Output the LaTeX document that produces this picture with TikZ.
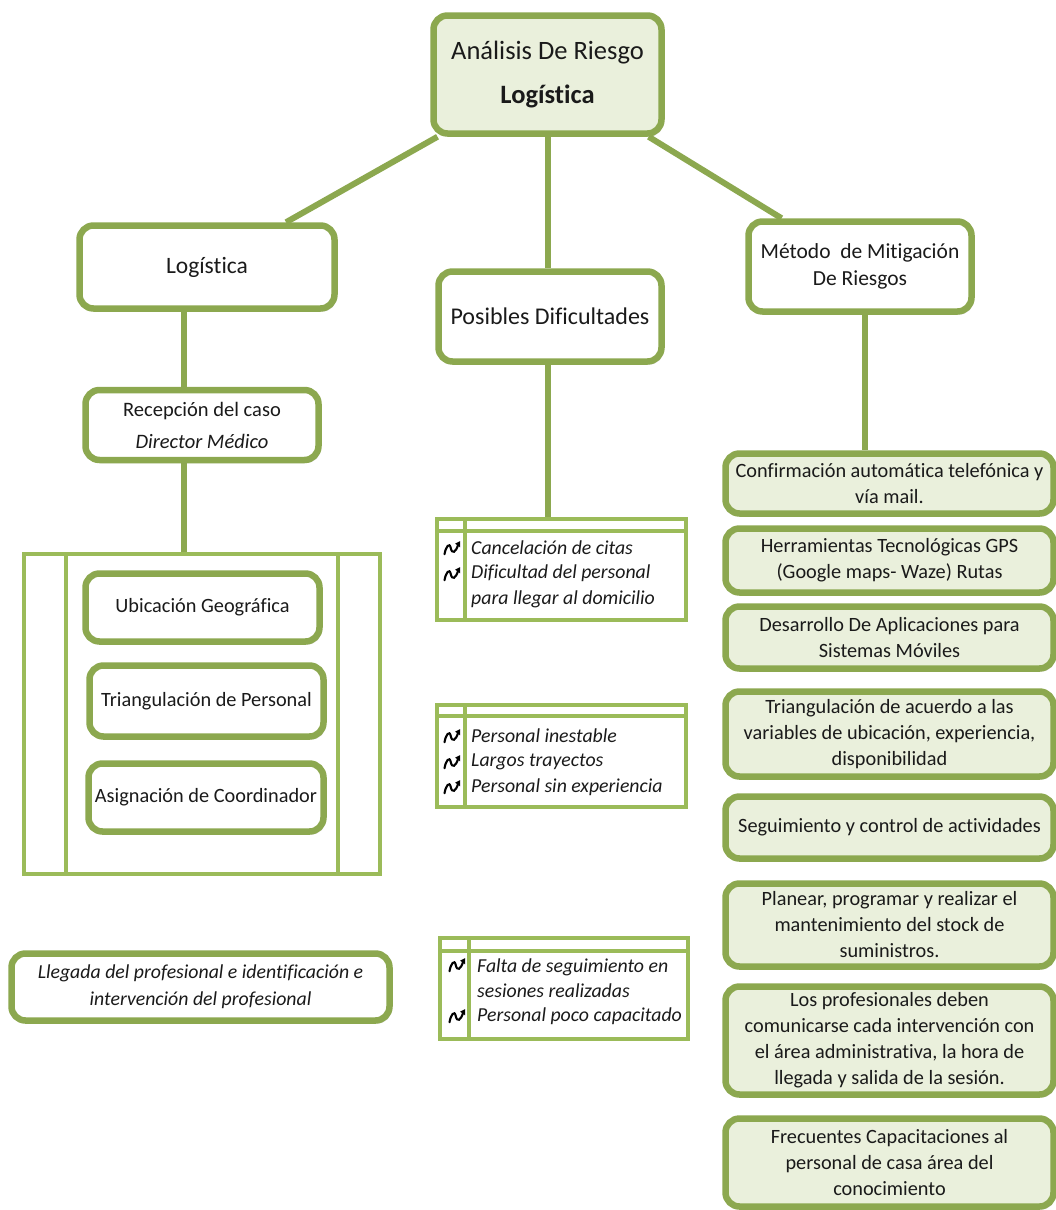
\documentclass[tikz,border=0pt]{standalone}
\usepackage{fontspec}
\setmainfont[Ligatures=NoCommon]{Carlito}
\usetikzlibrary{shadows,backgrounds,arrows.meta}
\definecolor{boxline}{HTML}{8CA84F}
\definecolor{tblline}{HTML}{9BBB59}
\definecolor{softgreen}{HTML}{EAF0DC}
\definecolor{ink}{HTML}{1A1A1A}

\tikzset{
  card/.style={draw=boxline, line width=6.5pt, rounded corners=14pt, fill=white,
    text=ink, align=center, inner sep=0pt,
    drop shadow={shadow xshift=2pt, shadow yshift=-3pt, opacity=0.3}},
  greencard/.style={card, fill=softgreen},
  tablebox/.style={draw=tblline, line width=4pt, inner sep=0pt},
  tableline/.style={draw=tblline, line width=4pt},
  conn/.style={draw=boxline, line width=6pt},
  txt/.style={font=\fontsize{20.3}{26}\selectfont},
  itemtxt/.style={font=\fontsize{19.8}{25.5}\selectfont\itshape, text=ink, anchor=west,
    align=left, inner sep=0pt},
  wavemark/.pic={
    \begin{scope}[scale=1.25]
    \draw[line width=2.1pt, black, line cap=round]
      (-6,5) .. controls (-5,-1) and (-2,-5) .. (-1,0)
      .. controls (0,5) and (3,4) .. (5,-3);
    \fill[black] (6.5,-5.5) -- (2.5,-3.5) -- (6.5,-0.5) -- cycle;
    \end{scope}
  }
}

\begin{document}
\begin{tikzpicture}[x=1pt,y=-1pt]
\useasboundingbox (0,0) rectangle (1055,1210);

% ---- root ----
\node[greencard, minimum width=228pt, minimum height=118pt,
      font=\fontsize{26.5}{44}\selectfont] (root) at (547.5,74.5)
      {Análisis De Riesgo\\\textbf{Logística}};

% ---- three branches ----
\node[card, minimum width=255pt, minimum height=83pt, font=\fontsize{23.5}{26}\selectfont]
  (logi) at (207,267) {Logística};
\node[card, minimum width=223pt, minimum height=90pt, font=\fontsize{24}{26}\selectfont]
  (dific) at (550,316.5) {Posibles Dificultades};
\node[card, minimum width=223pt, minimum height=90pt, font=\fontsize{21.5}{27}\selectfont]
  (metodo) at (860,266.5) {Método \ de Mitigación\\De Riesgos};

% ---- logistics branch ----
\node[card, minimum width=233pt, minimum height=70pt, font=\fontsize{20.5}{32}\selectfont]
  (recep) at (202,425) {Recepción del caso\\\textit{Director Médico}};

\node[tablebox, minimum width=356pt, minimum height=320pt] (frame) at (202,714) {};
\draw[tableline] ([xshift=44pt]frame.north west) -- ([xshift=44pt]frame.south west);
\draw[tableline] ([xshift=-44pt]frame.north east) -- ([xshift=-44pt]frame.south east);

\node[card, txt, minimum width=234pt, minimum height=68pt] (ubic) at (202.5,607.5)
  {Ubicación Geográfica};
\node[card, txt, minimum width=234pt, minimum height=71pt] (triang) at (206.5,701)
  {Triangulación de Personal};
\node[card, txt, minimum width=235pt, minimum height=68pt] (asig) at (206,797.5)
  {Asignación de Coordinador};

\node[card, minimum width=378pt, minimum height=67pt,
      font=\fontsize{19.8}{27}\selectfont\itshape] (lleg) at (200.5,987)
  {Llegada del profesional e identificación e\\intervención del profesional};

% ---- difficulties tables ----
\node[tablebox, minimum width=249pt, minimum height=101pt] (tabA) at (561.5,569.5) {};
\node[tablebox, minimum width=249pt, minimum height=102pt] (tabB) at (561.5,756) {};
\node[tablebox, minimum width=248pt, minimum height=101pt] (tabC) at (564,988.5) {};
\foreach \t/\col/\row in {tabA/30/14, tabB/30/13, tabC/31/15}{
  \draw[tableline] ([yshift=-\row pt]\t.north west) -- ([yshift=-\row pt]\t.north east);
  \draw[tableline] ([xshift=\col pt]\t.north west) -- ([xshift=\col pt]\t.south west);
}

\pic (mA1) at (452,548) {wavemark};
\pic (mA2) at (452,574) {wavemark};
\node[itemtxt] (iA1) at (471,548) {Cancelación de citas};
\node[itemtxt] (iA2) at (471,586.5) {Dificultad del personal\\para llegar al domicilio};

\pic (mB1) at (452,736) {wavemark};
\pic (mB2) at (452,762) {wavemark};
\pic (mB3) at (452,787) {wavemark};
\node[itemtxt] (iB1) at (471,736) {Personal inestable};
\node[itemtxt] (iB2) at (471,762) {Largos trayectos};
\node[itemtxt] (iB3) at (471,787) {Personal sin experiencia};

\pic (mC1) at (457,965) {wavemark};
\pic (mC2) at (457,1016) {wavemark};
\node[itemtxt] (iC1) at (477,978) {Falta de seguimiento en\\sesiones realizadas};
\node[itemtxt] (iC2) at (477,1016) {Personal poco capacitado};

% ---- mitigation boxes ----
\begin{scope}[every node/.style={greencard, txt, minimum width=328pt}]
\node[minimum height=60pt]  (m1) at (889.5,483.5)
  {Confirmación automática telefónica y\\vía mail.};
\node[minimum height=64pt]  (m2) at (889.5,560.5)
  {Herramientas Tecnológicas GPS\\(Google maps- Waze) Rutas};
\node[minimum height=62pt]  (m3) at (889.5,637.5)
  {Desarrollo De Aplicaciones para\\Sistemas Móviles};
\node[minimum height=85pt]  (m4) at (889.5,734)
  {Triangulación de acuerdo a las\\variables de ubicación, experiencia,\\disponibilidad};
\node[minimum height=62pt]  (m5) at (889.5,827.5)
  {Seguimiento y control de actividades};
\node[minimum height=83pt]  (m6) at (889.5,925)
  {Planear, programar y realizar el\\mantenimiento del stock de\\suministros.};
\node[minimum height=108pt] (m7) at (889.5,1040.5)
  {Los profesionales deben\\comunicarse cada intervención con\\el área administrativa, la hora de\\llegada y salida de la sesión.};
\node[minimum height=88pt]  (m8) at (889.5,1162.5)
  {Frecuentes Capacitaciones al\\personal de casa área del\\conocimiento};
\end{scope}

% ---- connectors ----
\begin{scope}[on background layer]
\draw[conn] (root) -- (logi);
\draw[conn] (root) -- (metodo);
\draw[conn] (root.south) -- (root.south |- dific.north);
\draw[conn] ([xshift=-23pt]logi.south) -- ([xshift=-18pt]recep.north);
\draw[conn] ([xshift=-18pt]recep.south) -- ([xshift=-18pt]frame.north);
\draw[conn] ([xshift=-2pt]dific.south) -- ([xshift=-2pt]dific.south |- tabA.north);
\draw[conn] ([xshift=5pt]metodo.south) -- ([xshift=5pt]metodo.south |- m1.north);
\end{scope}
\end{tikzpicture}
\end{document}
